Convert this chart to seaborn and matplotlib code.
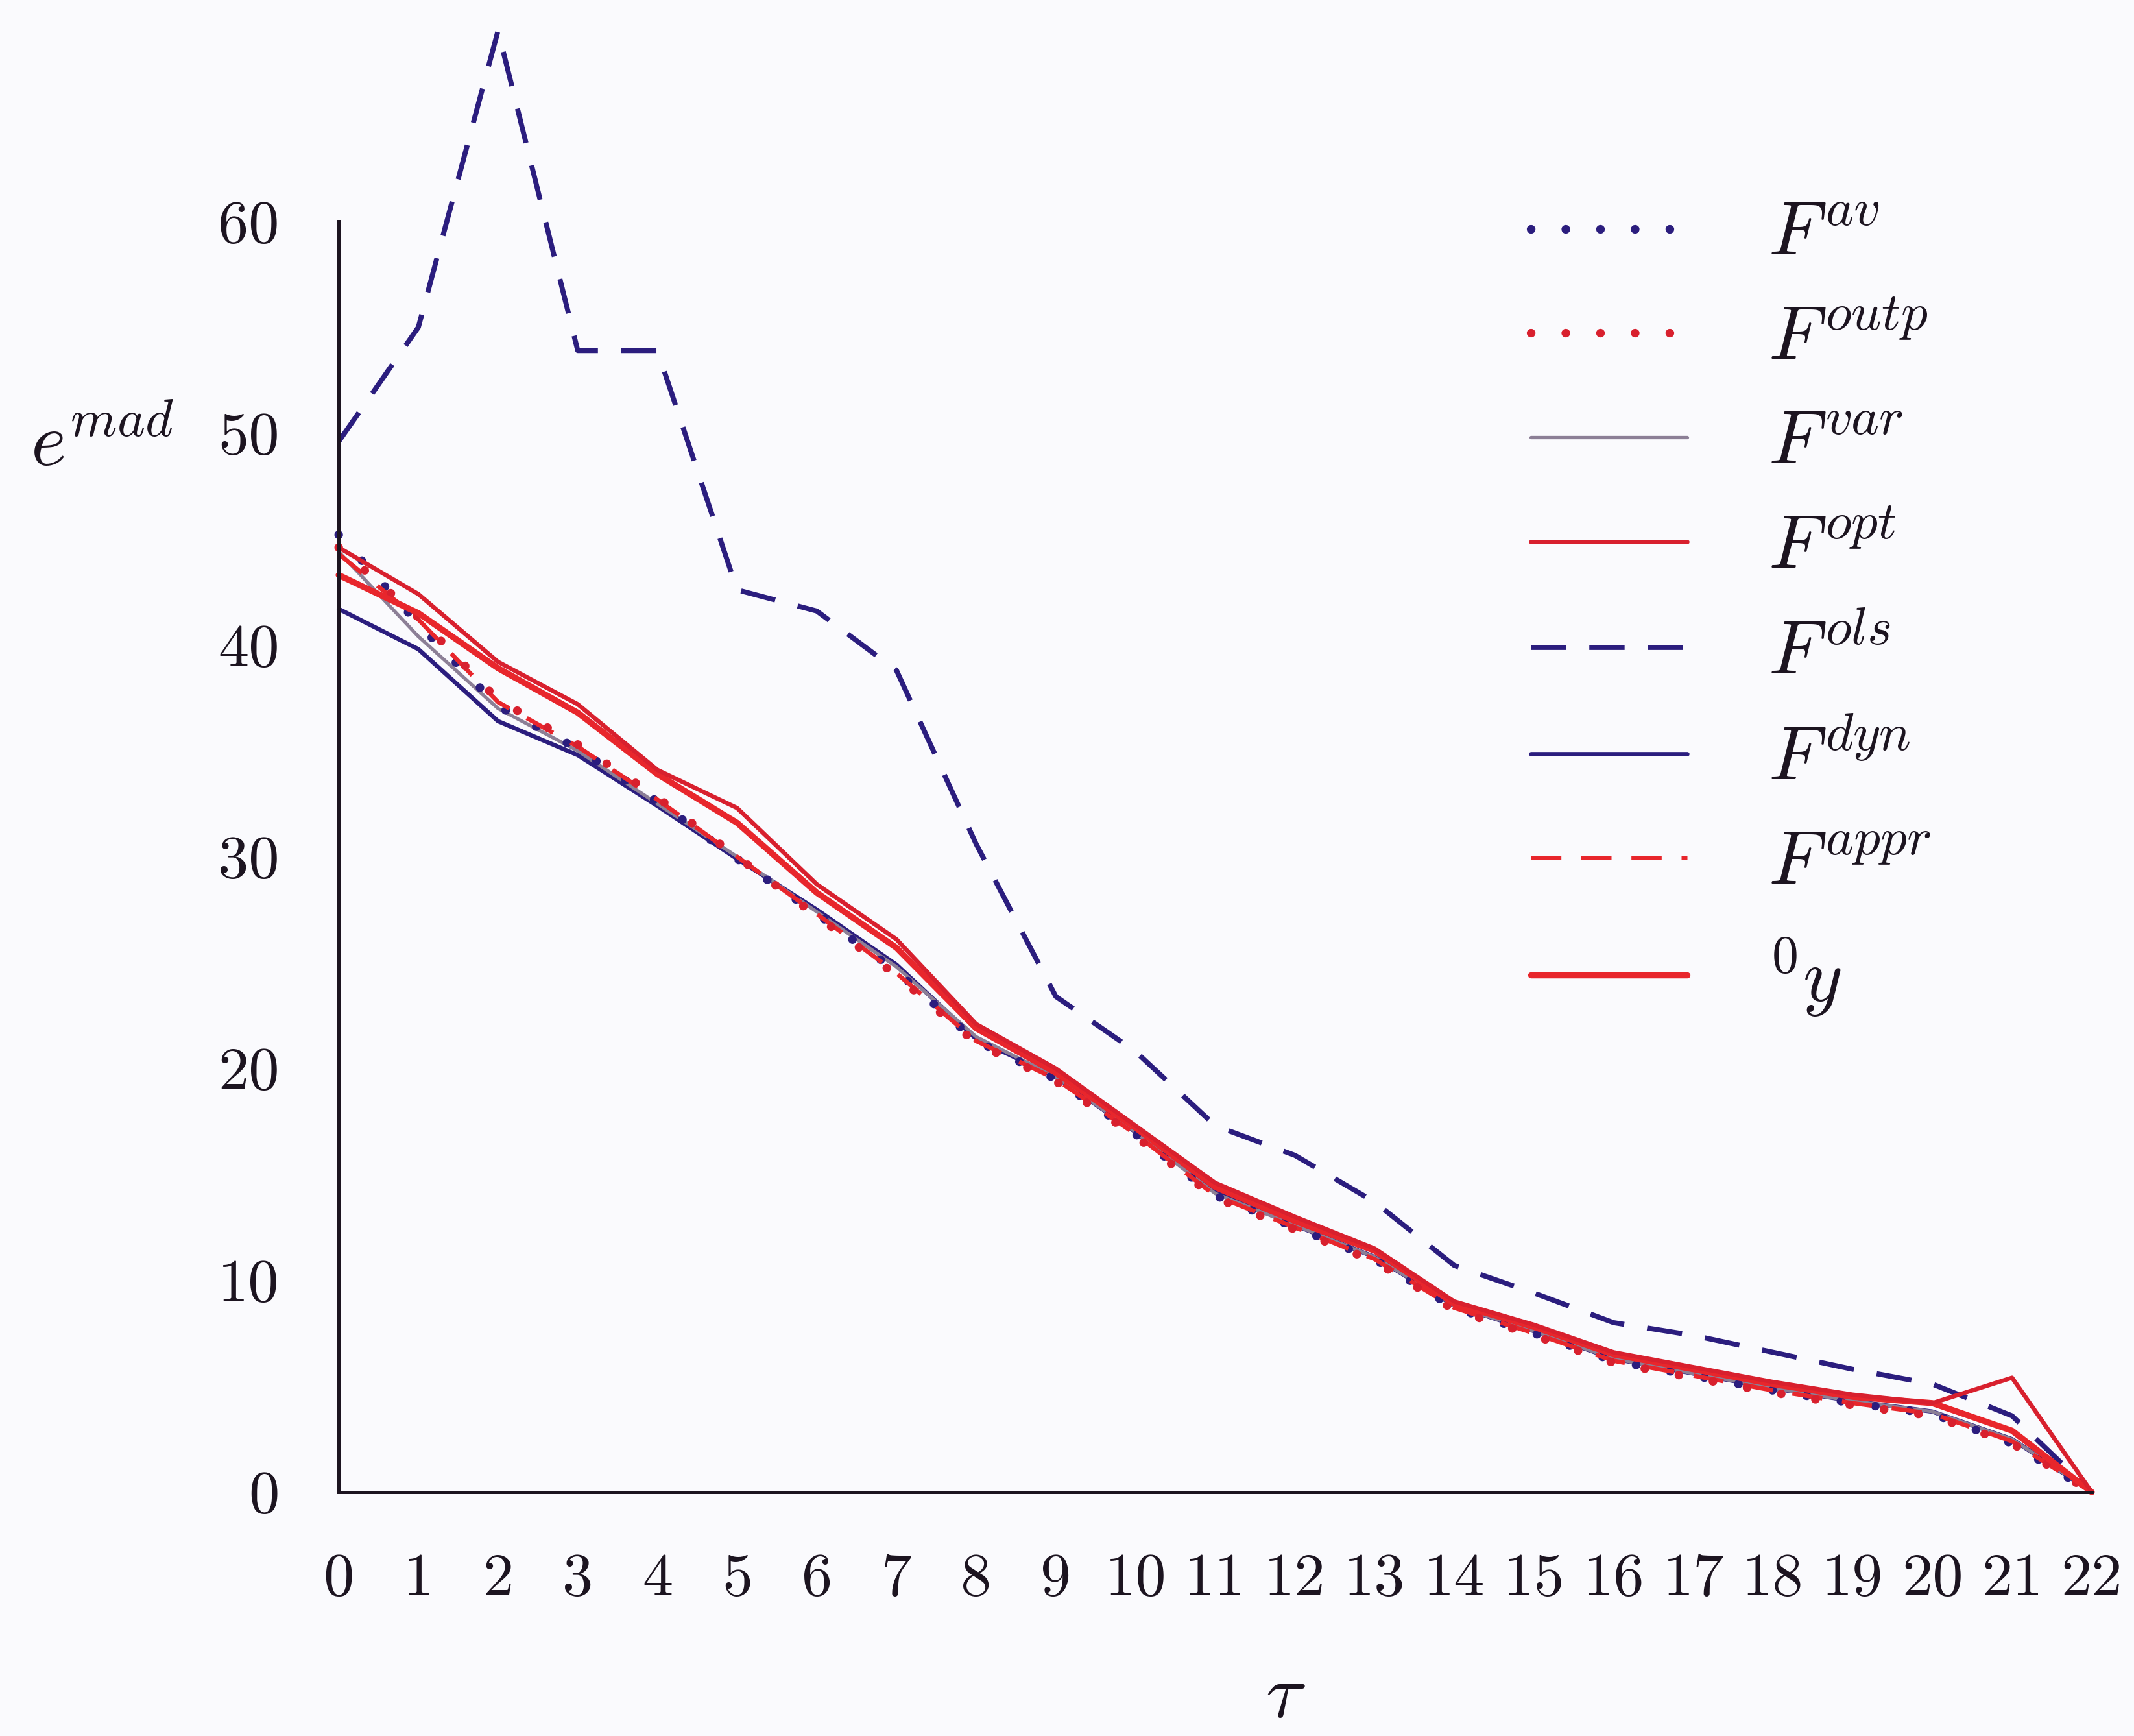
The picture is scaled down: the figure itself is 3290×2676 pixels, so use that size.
import matplotlib
matplotlib.use("Agg")
import matplotlib.pyplot as plt
import seaborn as sns

# ---- data ----
tau = list(range(23))
x_ticks = list(range(0, 23))
y_ticks = [0, 10, 20, 30, 40, 50, 60]

f_av = [45.2, 41.0, 37.1, 35.1, 32.6, 29.9, 27.3, 24.6, 21.3, 19.5, 16.9, 14.0,
        12.5, 11.0, 8.7, 7.5, 6.2, 5.5, 4.8, 4.2, 3.7, 2.3, 0.0]
f_outp = [44.6, 41.3, 37.4, 35.3, 32.8, 30.0, 27.2, 24.4, 21.2, 19.4, 16.8, 13.9,
          12.4, 10.9, 8.6, 7.4, 6.1, 5.4, 4.7, 4.1, 3.6, 2.3, 0.0]
f_var = [44.4, 40.4, 37.0, 35.0, 32.5, 30.0, 27.4, 24.8, 21.5, 19.6, 17.0, 14.1,
         12.6, 11.1, 8.8, 7.6, 6.3, 5.6, 4.9, 4.3, 3.8, 2.5, 0.0]
f_opt = [44.6, 42.4, 39.2, 37.2, 34.1, 32.3, 28.7, 26.1, 22.1, 20.0, 17.3, 14.6,
         13.0, 11.5, 9.0, 7.9, 6.6, 5.9, 5.2, 4.6, 4.2, 5.4, 0.0]
f_ols = [49.6, 55.0, 69.0, 53.9, 53.9, 42.6, 41.6, 38.8, 30.6, 23.4, 20.8, 17.3,
         15.9, 13.7, 10.7, 9.4, 8.0, 7.4, 6.6, 5.8, 5.1, 3.6, 0.0]
f_dyn = [41.7, 39.8, 36.4, 34.8, 32.4, 29.9, 27.5, 24.9, 21.4, 19.6, 17.0, 14.2,
         12.6, 11.1, 8.8, 7.6, 6.3, 5.6, 4.9, 4.3, 3.8, 2.5, 0.0]
f_appr = [44.3, 41.2, 37.3, 35.2, 32.7, 30.0, 27.3, 24.5, 21.3, 19.5, 16.9, 14.0,
          12.5, 11.0, 8.7, 7.5, 6.2, 5.5, 4.8, 4.2, 3.7, 2.4, 0.0]
y_0 = [43.3, 41.5, 38.9, 36.8, 33.9, 31.6, 28.3, 25.7, 21.9, 19.8, 17.2, 14.4,
       12.8, 11.4, 8.9, 7.8, 6.5, 5.8, 5.1, 4.5, 4.2, 2.9, 0.0]

labels = [r"$F^{av}$", r"$F^{outp}$", r"$F^{var}$", r"$F^{opt}$",
          r"$F^{ols}$", r"$F^{dyn}$", r"$F^{appr}$", r"${}^{0}y$"]

# ---- style ----
sns.set_theme(style="white")
plt.rcParams["font.family"] = ["cmr10", "DejaVu Serif"]
plt.rcParams["mathtext.fontset"] = "cm"
plt.rcParams["axes.formatter.use_mathtext"] = True

BG = "#fafafd"
INK = "#1c1420"
BLUE = "#2b1d7e"
RED = "#e8262c"
DRED = "#d8202e"
GREY = "#8c7f96"

fig = plt.figure(figsize=(16.45, 13.38), dpi=200, facecolor=BG)
ax = fig.add_axes([0.1587, 0.1405, 0.8215, 0.854])
ax.set_facecolor(BG)

dot = (0, (0.01, 4.0))
dash = (0, (7.0, 4.6))

series = [
    # (values, label index, color, linestyle, linewidth)
    (f_ols, 4, BLUE, dash, 2.8),
    (f_dyn, 5, BLUE, "-", 2.4),
    (f_var, 2, GREY, "-", 1.9),
    (f_av, 0, BLUE, dot, 4.8),
    (f_appr, 6, RED, dash, 2.4),
    (f_outp, 1, DRED, dot, 4.8),
    (y_0, 7, RED, "-", 3.4),
    (f_opt, 3, DRED, "-", 2.4),
]

handles = {}
for vals, li, col, ls, lw in series:
    sns.lineplot(x=tau, y=vals, ax=ax, color=col, linestyle=ls, linewidth=lw,
                 label=labels[li], clip_on=False)
    ln = ax.get_lines()[-1]
    ln.set_dash_capstyle("round" if ls == dot else "butt")
    handles[li] = ln

ax.set_xlim(0, 22)
ax.set_ylim(0, 70)
ax.set_xticks(x_ticks)
ax.set_yticks(y_ticks)
ax.set_xticklabels([str(t) for t in x_ticks])
ax.set_yticklabels([str(t) for t in y_ticks])

sns.despine(ax=ax)
for s in ["left", "bottom"]:
    ax.spines[s].set_color(INK)
    ax.spines[s].set_linewidth(1.8)
ax.spines["left"].set_bounds(0, 60)
ax.spines["bottom"].set_bounds(0, 22)

ax.tick_params(axis="both", direction="out", length=13, width=1.6,
               color=INK, labelcolor=INK, labelsize=34, pad=20)
ax.tick_params(axis="x", pad=21)

ax.set_xlabel(r"$\tau$", fontsize=42, color=INK, va="center")
ax.xaxis.set_label_coords(0.54, -0.139)
ax.set_ylabel(r"$e^{mad}$", fontsize=42, color=INK, rotation=0,
              va="center", ha="center")
ax.yaxis.set_label_coords(-0.135, 0.706)

if ax.get_legend():
    ax.get_legend().remove()
order = list(range(8))
leg = ax.legend([handles[i] for i in order], [labels[i] for i in order],
                loc="upper left", bbox_to_anchor=(0.68, 0.870),
                frameon=False, fontsize=42, handlelength=2.07,
                handletextpad=1.07, labelspacing=0.49,
                borderaxespad=0, borderpad=0)
for t in leg.get_texts():
    t.set_color(INK)

fig.savefig("out.png", dpi=200, facecolor=BG)
